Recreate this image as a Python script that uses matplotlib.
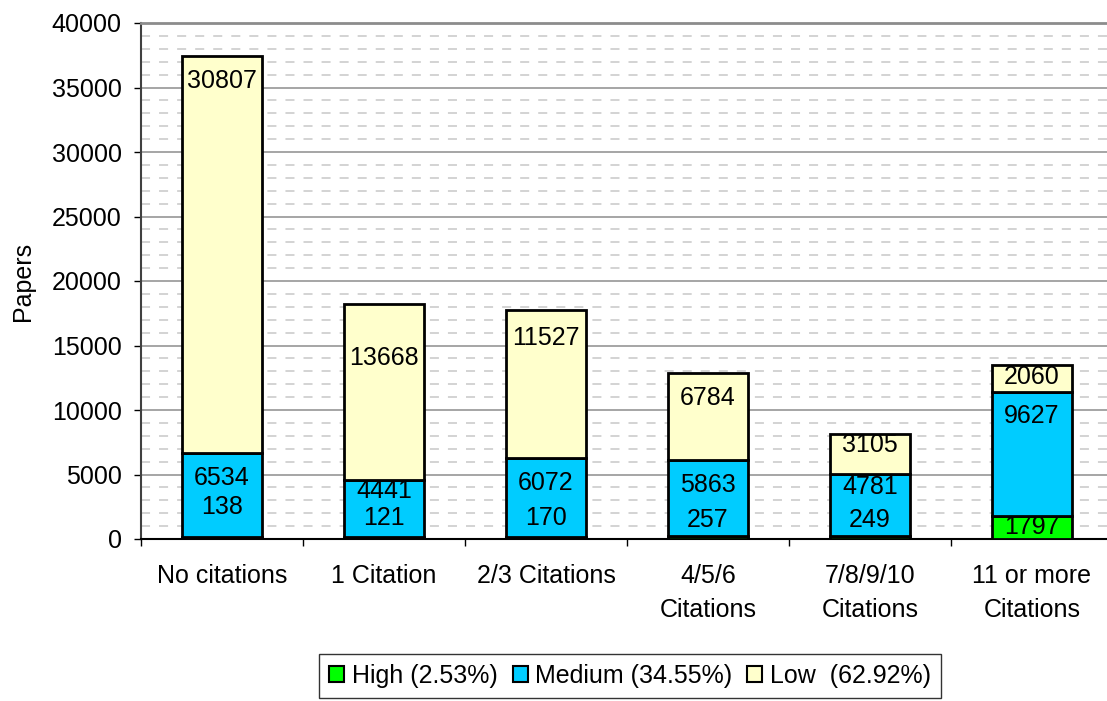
import numpy as np
import matplotlib
matplotlib.use("Agg")
from matplotlib import pyplot as plt
from matplotlib.patches import Patch
from matplotlib.ticker import MultipleLocator

plt.rcParams['font.family'] = ['Liberation Sans', 'DejaVu Sans']

categories = ["No citations", "1 Citation", "2/3 Citations", "4/5/6\nCitations",
              "7/8/9/10\nCitations", "11 or more\nCitations"]
high = [138, 121, 170, 257, 249, 1797]
medium = [6534, 4441, 6072, 5863, 4781, 9627]
low = [30807, 13668, 11527, 6784, 3105, 2060]
legend_labels = ["High (2.53%)", "Medium (34.55%)", "Low  (62.92%)"]

# label placement in pixels (as laid out in the original sheet)
low_dy = [25, 54, 28, 25, 11, 12]     # below top of low segment
med_dy = [25, 11, 25, 25, 13, 24]     # below top of medium segment
high_dy = [32, 21, 21, 19, 19, 12]    # above the baseline

colors = ["#00FF00", "#00CCFF", "#FFFFCC"]
FS = 18


def main():
    fig = plt.figure(figsize=(11.07, 7.01), dpi=100)
    ax = fig.add_axes([141 / 1107, 1 - 539 / 701, 972 / 1107, 516 / 701])

    x = np.arange(len(categories))
    high_a = np.array(high)
    med_a = np.array(medium)
    low_a = np.array(low)

    ax.bar(x, high_a, width=0.49, color=colors[0], edgecolor="black", linewidth=2, zorder=3)
    ax.bar(x, med_a, width=0.49, bottom=high_a, color=colors[1], edgecolor="black", linewidth=2, zorder=3)
    ax.bar(x, low_a, width=0.49, bottom=high_a + med_a, color=colors[2], edgecolor="black", linewidth=2,
           zorder=3)

    px = 72 / 100
    for i in range(len(categories)):
        top_low = high[i] + medium[i] + low[i]
        top_med = high[i] + medium[i]
        ax.annotate(str(low[i]), (x[i], top_low), xytext=(0, -low_dy[i] * px), textcoords="offset points",
                    ha="center", va="center", fontsize=FS, zorder=5)
        ax.annotate(str(medium[i]), (x[i], top_med), xytext=(0, -med_dy[i] * px), textcoords="offset points",
                    ha="center", va="center", fontsize=FS, zorder=5)
        ax.annotate(str(high[i]), (x[i], 0), xytext=(0, high_dy[i] * px), textcoords="offset points",
                    ha="center", va="center", fontsize=FS, zorder=5)

    ax.set_xlim(-0.5, len(categories) - 0.5)
    ax.set_ylim(0, 40000)
    ax.yaxis.set_major_locator(MultipleLocator(5000))
    ax.yaxis.set_minor_locator(MultipleLocator(1000))
    ax.grid(which="major", axis="y", color="#969696", linewidth=1.2, zorder=1)
    ax.grid(which="minor", axis="y", color="#d0d0d0", linewidth=1.3, linestyle=(0, (5, 5)), zorder=1)

    ax.set_xticks(x)
    ax.set_xticklabels(categories, fontsize=FS, linespacing=1.55)
    ax.set_xticks(np.arange(-0.5, len(categories)), minor=True)
    ax.tick_params(axis="x", which="major", length=0, pad=18)
    ax.tick_params(axis="x", which="minor", length=5, width=1, direction="out")
    ax.tick_params(axis="y", which="major", length=5, width=1, direction="out", labelsize=FS, pad=9)
    ax.tick_params(axis="y", which="minor", length=0)

    ax.set_ylabel("Papers", fontsize=FS, labelpad=12)

    ax.spines["right"].set_visible(False)
    ax.spines["top"].set_color("#8c8c8c")
    ax.spines["top"].set_linewidth(2)
    ax.spines["left"].set_color("#404040")
    ax.spines["left"].set_linewidth(1.5)
    ax.spines["bottom"].set_color("black")
    ax.spines["bottom"].set_linewidth(1.5)

    handles = [Patch(facecolor=c, edgecolor="black", linewidth=1.5) for c in colors]
    leg = fig.legend(handles, legend_labels, loc="center", bbox_to_anchor=(630 / 1107, 1 - 676 / 701),
                     ncol=3, fontsize=FS, frameon=True, fancybox=False, handlelength=0.6,
                     handleheight=0.6, handletextpad=0.3, columnspacing=0.6, borderpad=0.4)
    leg.get_frame().set_edgecolor("black")
    leg.get_frame().set_linewidth(1)

    fig.savefig("out.png", dpi=100)


if __name__ == "__main__":
    main()
